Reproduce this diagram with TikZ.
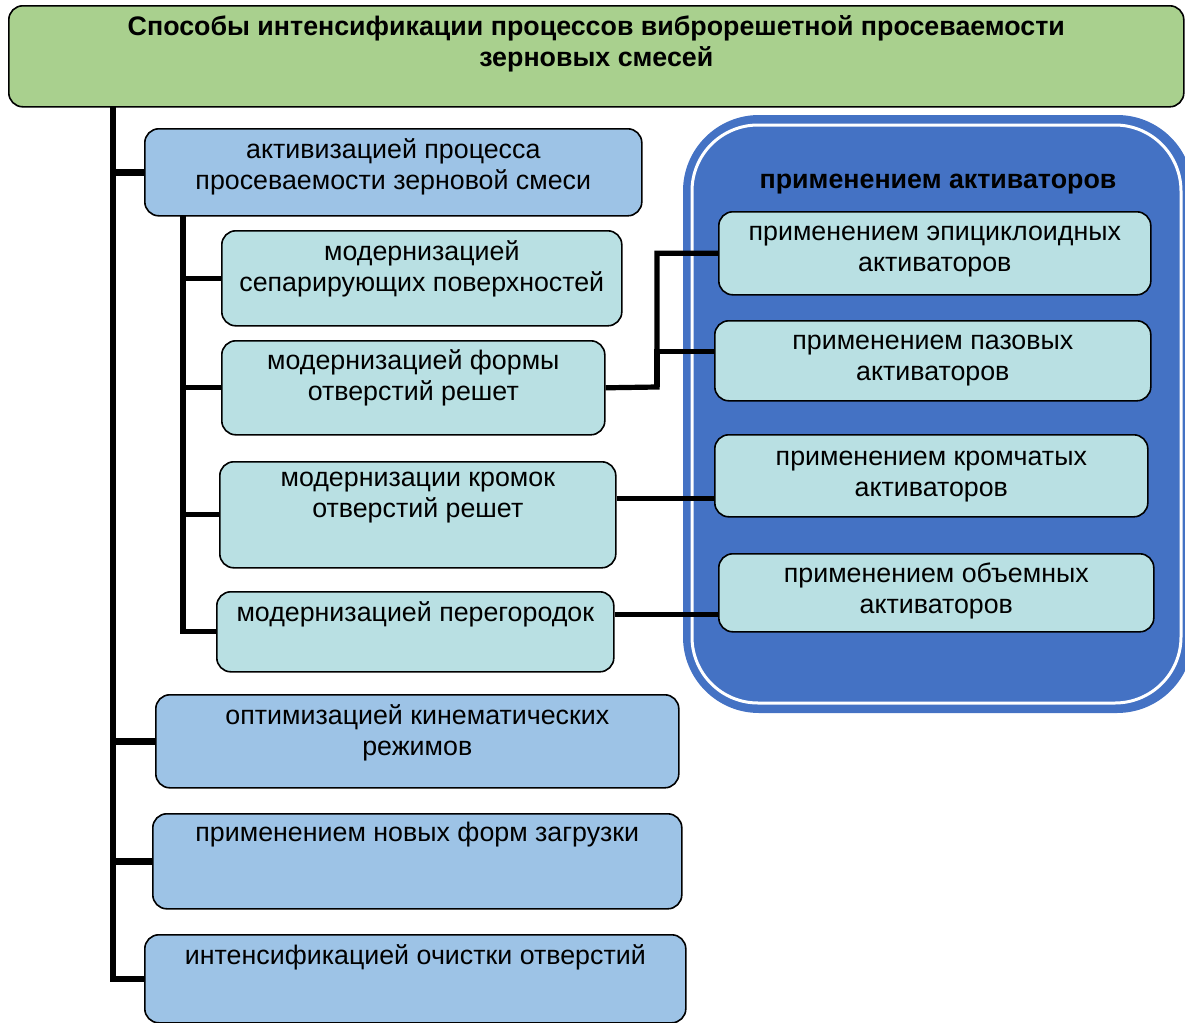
\documentclass[tikz,border=0pt]{standalone}
\usepackage{fontspec}
\setmainfont{Liberation Sans}
\usepackage{tikz}
\usetikzlibrary{positioning}
\newcommand{\unt}[0] {0.5pt}

\definecolor{titlegreen}{HTML}{A9D08E}
\definecolor{boxblue}{HTML}{9DC3E6}
\definecolor{boxcyan}{HTML}{B9E0E3}
\definecolor{panelblue}{HTML}{4472C4}

\tikzset{
  base/.style={draw=black, line width=0.8pt, rounded corners=7pt, anchor=north west, inner sep=0pt},
  titlebox/.style={base, fill=titlegreen},
  bluebox/.style={base, fill=boxblue},
  cyanbox/.style={base, fill=boxcyan},
  txt/.style={align=center, inner sep=0pt, font=\fontsize{13.4}{15.5}\selectfont},
  boldtxt/.style={txt, font=\fontsize{13.4}{15.5}\selectfont\bfseries},
  trunk/.style={line width=3.2pt, line join=miter},
  conn/.style={line width=2.6pt, line join=miter}
}

\begin{document}
\begin{tikzpicture}[x=\unt, y=-\unt]
        \useasboundingbox (0,0) rectangle (1185,1023);
        %panel of activators
        \fill[panelblue, rounded corners=38pt] (683,115) rectangle (1193,713);
        \draw[white, line width=1.5pt, rounded corners=33pt] (692,125) rectangle (1181,703);
        \node[boldtxt] (pt) at (938,184) {применением активаторов};
        %title
        \node[titlebox, minimum width=1175*\unt, minimum height=101*\unt] (title) at (8,5) {};
        \node[boldtxt, below=5pt of title.north] (titlet) {Способы интенсификации процессов виброрешетной просеваемости\\зерновых смесей};
        %first level boxes
        \node[bluebox, minimum width=497*\unt, minimum height=87*\unt] (b1) at (144,128) {};
        \node[txt, below=5pt of b1.north] (b1t) {активизацией процесса\\просеваемости зерновой смеси};
        \node[bluebox, minimum width=523*\unt, minimum height=93*\unt] (b6) at (155,694) {};
        \node[txt, below=5pt of b6.north] (b6t) {оптимизацией кинематических\\режимов};
        \node[bluebox, minimum width=529*\unt, minimum height=95*\unt] (b7) at (152,813) {};
        \node[txt, below=4.5pt of b7.north] (b7t) {применением новых форм загрузки};
        \node[bluebox, minimum width=541*\unt, minimum height=88*\unt] (b8) at (144,934) {};
        \node[txt, below=5pt of b8.north] (b8t) {интенсификацией очистки отверстий};
        %second level boxes
        \node[cyanbox, minimum width=400*\unt, minimum height=95*\unt] (b2) at (221,230) {};
        \node[txt, below=5pt of b2.north] (b2t) {модернизацией\\сепарирующих поверхностей};
        \node[cyanbox, minimum width=383*\unt, minimum height=94*\unt] (b3) at (221,340) {};
        \node[txt, below=4.5pt of b3.north] (b3t) {модернизацией формы\\отверстий решет};
        \node[cyanbox, minimum width=396*\unt, minimum height=106*\unt] (b4) at (219,461) {};
        \node[txt, below=5.5pt of b4.north] (b4t) {модернизации кромок\\отверстий решет};
        \node[cyanbox, minimum width=397*\unt, minimum height=80*\unt] (b5) at (216,591) {};
        \node[txt, below=5pt of b5.north] (b5t) {модернизацией перегородок};
        %activator boxes
        \node[cyanbox, minimum width=432*\unt, minimum height=83*\unt] (r1) at (718,211) {};
        \node[txt, below=7.5pt of r1.north] (r1t) {применением эпициклоидных\\активаторов};
        \node[cyanbox, minimum width=436*\unt, minimum height=80*\unt] (r2) at (714,320) {};
        \node[txt, below=7.5pt of r2.north] (r2t) {применением пазовых\\активаторов};
        \node[cyanbox, minimum width=433*\unt, minimum height=82*\unt] (r3) at (714,434) {};
        \node[txt, below=8.5pt of r3.north] (r3t) {применением кромчатых\\активаторов};
        \node[cyanbox, minimum width=435*\unt, minimum height=78*\unt] (r4) at (718,553) {};
        \node[txt, below=4.5pt of r4.north] (r4t) {применением объемных\\активаторов};
        %trunk points
        \coordinate (t0) at (113,106);
        \coordinate (s0) at (183,215);
        \coordinate (j0) at (657,387);
        %main trunk
        \draw[trunk] (b1.west) -| (t0);
        \draw[trunk] (b6.west) -| (t0);
        \draw[trunk] (b7.west) -| (t0);
        \draw[trunk] (b8.west) -| (t0);
        %second trunk
        \draw[conn] (b2.west) -| (s0);
        \draw[conn] (b3.west) -| (s0);
        \draw[conn] (b4.west) -| (s0);
        \draw[conn] (b5.west) -| (s0);
        %to activators
        \draw[conn] (r1.west) -| (j0) -- (b3.east);
        \draw[conn] (j0) |- ([yshift=4.5pt]r2.west);
        \draw[conn] ([yshift=8pt]b4.east) -- ([yshift=8pt]b4.east -| r3.west);
        \draw[conn] ([yshift=8.5pt]b5.east) -- ([yshift=8.5pt]b5.east -| r4.west);
    \end{tikzpicture}
\end{document}
